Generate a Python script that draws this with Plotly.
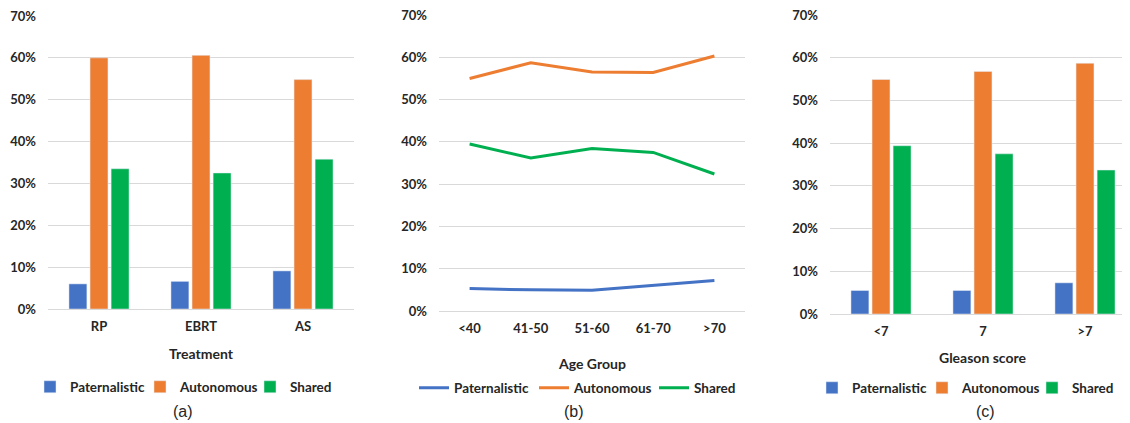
import plotly.graph_objects as go

W, H = 1130, 423
OFF = 8  # page body margin offset of the figure

series = ["Paternalistic", "Autonomous", "Shared"]
colors = ["#4472C4", "#ED7D31", "#00B050"]

treat_cats = ["RP", "EBRT", "AS"]
treat_pat = [0.060, 0.066, 0.091]
treat_aut = [0.600, 0.606, 0.548]
treat_sha = [0.335, 0.325, 0.358]

age_cats = ["<40", "41-50", "51-60", "61-70", ">70"]
age_pat = [0.053, 0.050, 0.049, 0.060, 0.072]
age_aut = [0.550, 0.587, 0.565, 0.564, 0.603]
age_sha = [0.395, 0.362, 0.384, 0.375, 0.324]

gl_cats = ["<7", "7", ">7"]
gl_pat = [0.055, 0.055, 0.073]
gl_aut = [0.549, 0.568, 0.587]
gl_sha = [0.394, 0.375, 0.337]

y_ticks = [0, 0.1, 0.2, 0.3, 0.4, 0.5, 0.6, 0.7]
y_ticklabels = ["0%", "10%", "20%", "30%", "40%", "50%", "60%", "70%"]

FONT = "Lato, 'Open Sans', sans-serif"
TXT = "#262626"

fig = go.Figure()

for name, col, vals in zip(series, colors, [treat_pat, treat_aut, treat_sha]):
    fig.add_trace(go.Bar(x=treat_cats, y=vals, name=name, marker_color=col,
                         xaxis="x", yaxis="y", legend="legend"))
for name, col, vals in zip(series, colors, [age_pat, age_aut, age_sha]):
    fig.add_trace(go.Scatter(x=age_cats, y=vals, name=name, mode="lines",
                             line=dict(color=col, width=3),
                             xaxis="x2", yaxis="y2", legend="legend2"))
for name, col, vals in zip(series, colors, [gl_pat, gl_aut, gl_sha]):
    fig.add_trace(go.Bar(x=gl_cats, y=vals, name=name, marker_color=col,
                         xaxis="x3", yaxis="y3", legend="legend3"))


def px_x(v):
    return (v - OFF) / W


def px_y(v):
    return 1 - (v - OFF) / H


tickfont = dict(family=FONT, size=13, color=TXT, weight="bold")


def xax(x0, x1, anchor, rng):
    return dict(domain=[px_x(x0), px_x(x1)], anchor=anchor, type="category",
                range=rng, showgrid=False, showline=False, zeroline=False,
                ticks="outside", ticklen=5, tickcolor="rgba(0,0,0,0)",
                tickfont=tickfont, fixedrange=True, automargin=False)


def yax(top, bottom, anchor):
    return dict(domain=[px_y(bottom), px_y(top)], anchor=anchor,
                range=[0, 0.7], tickmode="array", tickvals=y_ticks,
                ticktext=y_ticklabels, ticklabeloverflow="allow",
                showgrid=True, gridcolor="#D9D9D9", gridwidth=1,
                zeroline=True, zerolinecolor="#D9D9D9", zerolinewidth=1,
                showline=False, tickfont=tickfont, ticklabelstandoff=11,
                fixedrange=True, automargin=False)


legend_common = dict(orientation="h", xanchor="left", yanchor="middle",
                     font=dict(family=FONT, size=13.5, color=TXT, weight="bold"),
                     bgcolor="rgba(0,0,0,0)", itemclick=False,
                     tracegroupgap=0)

fig.update_layout(
    width=W, height=H,
    margin=dict(l=0, r=0, t=0, b=0, pad=0, autoexpand=False),
    paper_bgcolor="white", plot_bgcolor="white",
    barmode="group", bargap=0.38, bargroupgap=0.15,
    font=dict(family=FONT, color=TXT),
    xaxis=xax(48, 354, "y", [-0.5, 2.5]),
    yaxis=yax(16, 309, "x"),
    xaxis2=xax(439, 745, "y2", [-0.5, 4.5]),
    yaxis2=yax(15, 311, "x2"),
    xaxis3=xax(830, 1136, "y3", [-0.5, 2.5]),
    yaxis3=yax(15, 314, "x3"),
    legend=dict(x=px_x(30), y=px_y(387), entrywidth=65, **legend_common),
    legend2=dict(x=px_x(414), y=px_y(388), entrywidth=75, **legend_common),
    legend3=dict(x=px_x(812), y=px_y(388), entrywidth=65, **legend_common),
    showlegend=True,
)

ann_title = dict(family=FONT, size=14, color=TXT, weight="bold")
ann_lab = dict(family="'Liberation Sans', Arial, sans-serif", size=16, color=TXT)
for text, x, y, f in [
    ("Treatment", 201, 353, ann_title),
    ("Age Group", 592, 363, ann_title),
    ("Gleason score", 983, 357, ann_title),
    ("(a)", 183, 411, ann_lab),
    ("(b)", 574, 411, ann_lab),
    ("(c)", 986, 411, ann_lab),
]:
    fig.add_annotation(text=text, x=px_x(x), y=px_y(y), xref="paper", yref="paper",
                       showarrow=False, xanchor="center", yanchor="middle", font=f)

fig.write_html("out.html")
